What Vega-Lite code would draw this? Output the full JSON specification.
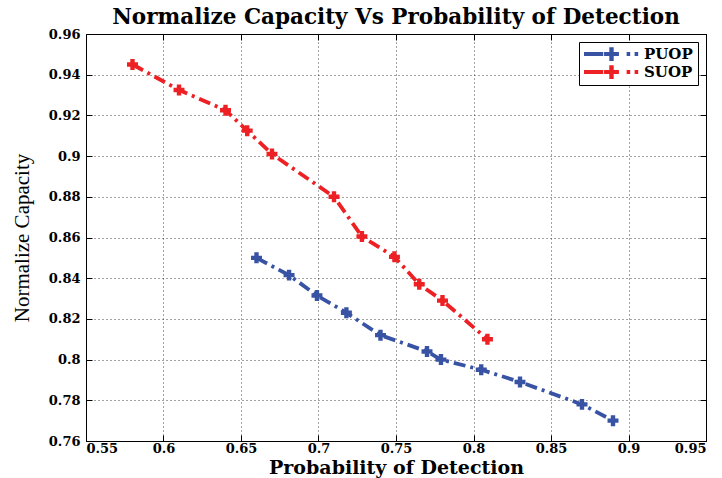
{
  "$schema": "https://vega.github.io/schema/vega-lite/v6.json",
  "width": 620,
  "height": 407,
  "autosize": {"type": "none"},
  "padding": {"left": 86, "top": 34, "right": 16, "bottom": 37},
  "background": "white",
  "title": {
    "text": "Normalize Capacity Vs Probability of Detection",
    "font": "DejaVu Serif",
    "fontWeight": "bold",
    "fontSize": 21.5,
    "color": "black",
    "anchor": "middle",
    "frame": "group",
    "baseline": "alphabetic",
    "offset": -17
  },
  "data": {
    "values": [
      {"series": "PUOP", "pd": 0.66, "cap": 0.850},
      {"series": "PUOP", "pd": 0.681, "cap": 0.8415},
      {"series": "PUOP", "pd": 0.699, "cap": 0.8315},
      {"series": "PUOP", "pd": 0.718, "cap": 0.823},
      {"series": "PUOP", "pd": 0.74, "cap": 0.812},
      {"series": "PUOP", "pd": 0.77, "cap": 0.804},
      {"series": "PUOP", "pd": 0.779, "cap": 0.800},
      {"series": "PUOP", "pd": 0.805, "cap": 0.795},
      {"series": "PUOP", "pd": 0.83, "cap": 0.789},
      {"series": "PUOP", "pd": 0.87, "cap": 0.778},
      {"series": "PUOP", "pd": 0.89, "cap": 0.770},
      {"series": "SUOP", "pd": 0.58, "cap": 0.945},
      {"series": "SUOP", "pd": 0.61, "cap": 0.9325},
      {"series": "SUOP", "pd": 0.64, "cap": 0.9225},
      {"series": "SUOP", "pd": 0.654, "cap": 0.9125},
      {"series": "SUOP", "pd": 0.67, "cap": 0.901},
      {"series": "SUOP", "pd": 0.71, "cap": 0.880},
      {"series": "SUOP", "pd": 0.728, "cap": 0.8605},
      {"series": "SUOP", "pd": 0.749, "cap": 0.8505},
      {"series": "SUOP", "pd": 0.765, "cap": 0.837},
      {"series": "SUOP", "pd": 0.78, "cap": 0.829},
      {"series": "SUOP", "pd": 0.809, "cap": 0.810}
    ]
  },
  "layer": [
    {
      "mark": {"type": "line", "strokeWidth": 3.8, "strokeDash": [12, 5, 3, 5], "strokeCap": "butt"},
      "encoding": {
        "x": {
          "field": "pd", "type": "quantitative",
          "scale": {"domain": [0.55, 0.95], "nice": false, "zero": false},
          "axis": {
            "title": "Probability of Detection",
            "values": [0.55, 0.6, 0.65, 0.7, 0.75, 0.8, 0.85, 0.9, 0.95],
            "format": "~g",
            "orient": "bottom",
            "tickSize": -6,
            "labelPadding": 7,
            "titleY": 32,
            "titleBaseline": "alphabetic",
            "titleFont": "DejaVu Serif",
            "titleFontSize": 19,
            "titleFontWeight": "bold"
          }
        },
        "y": {
          "field": "cap", "type": "quantitative",
          "scale": {"domain": [0.76, 0.96], "nice": false, "zero": false},
          "axis": {
            "title": "Normalize Capacity",
            "values": [0.76, 0.78, 0.8, 0.82, 0.84, 0.86, 0.88, 0.9, 0.92, 0.94, 0.96],
            "format": "~g",
            "orient": "left",
            "tickSize": -6,
            "labelPadding": 12,
            "titlePadding": 16,
            "titleFont": "Liberation Serif",
            "titleFontSize": 21,
            "titleFontWeight": "normal"
          }
        },
        "color": {
          "field": "series", "type": "nominal",
          "scale": {"domain": ["PUOP", "SUOP"], "range": ["#3953a4", "#ed2024"]},
          "legend": {
            "title": null,
            "orient": "top-right",
            "offset": 8,
            "strokeColor": "black",
            "fillColor": "white",
            "padding": 5,
            "symbolType": "M-1,-0.07H-0.3V0.07H-1Z M-0.27,-0.07H-0.08V-0.25H0.08V-0.07H0.27V0.07H0.08V0.25H-0.08V0.07H-0.27Z M0.55,-0.07H0.68V0.07H0.55Z M0.84,-0.07H0.97V0.07H0.84Z",
            "symbolSize": 3025,
            "symbolStrokeWidth": 0,
            "symbolOpacity": 1,
            "clipHeight": 14,
            "rowPadding": 3,
            "labelFont": "DejaVu Serif",
            "labelFontWeight": "bold",
            "labelFontSize": 15,
            "labelColor": "black",
            "labelOffset": 5
          }
        }
      }
    },
    {
      "mark": {"type": "point", "shape": "cross", "filled": true, "size": 120, "opacity": 1},
      "encoding": {
        "x": {"field": "pd", "type": "quantitative", "axis": null},
        "y": {"field": "cap", "type": "quantitative", "axis": null},
        "color": {"field": "series", "type": "nominal"}
      }
    },
    {
      "mark": {"type": "point", "opacity": 0},
      "encoding": {
        "x": {
          "field": "pd", "type": "quantitative",
          "axis": {"orient": "top", "title": null, "labels": false, "grid": false, "tickSize": -6,
                   "values": [0.55, 0.6, 0.65, 0.7, 0.75, 0.8, 0.85, 0.9, 0.95]}
        },
        "y": {
          "field": "cap", "type": "quantitative",
          "axis": {"orient": "right", "title": null, "labels": false, "grid": false, "tickSize": -6,
                   "values": [0.76, 0.78, 0.8, 0.82, 0.84, 0.86, 0.88, 0.9, 0.92, 0.94, 0.96]}
        }
      }
    }
  ],
  "resolve": {"axis": {"x": "independent", "y": "independent"}},
  "config": {
    "view": {"stroke": "black", "strokeWidth": 1},
    "axis": {
      "domainColor": "black",
      "tickColor": "black",
      "grid": true,
      "gridColor": "#333333",
      "gridDash": [1, 3],
      "gridWidth": 1,
      "gridOpacity": 0.9,
      "labelFont": "DejaVu Serif",
      "labelFontWeight": "bold",
      "labelFontSize": 13,
      "labelColor": "black",
      "titleColor": "black"
    }
  }
}
